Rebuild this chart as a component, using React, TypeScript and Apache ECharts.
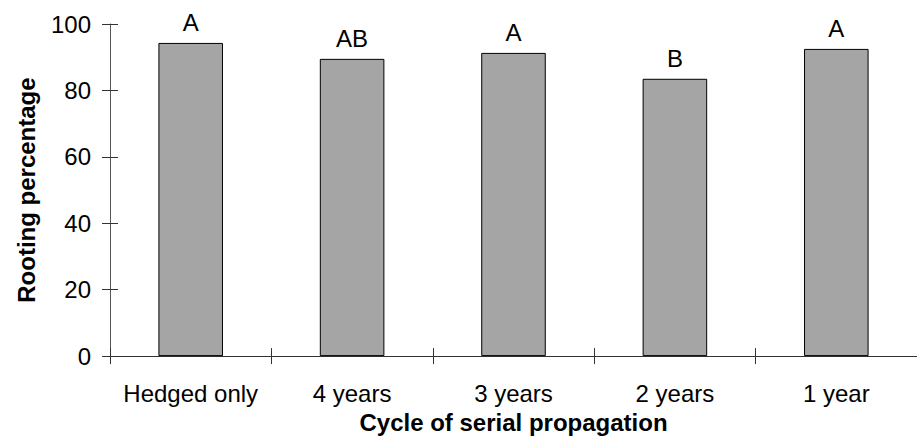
import React, { useEffect, useRef } from "react";
import * as echarts from "echarts";

const categories = ["Hedged only", "4 years", "3 years", "2 years", "1 year"];
const rootingValues = [94.3, 89.5, 91.3, 83.5, 92.5];
const letters = ["A", "AB", "A", "B", "A"];
const yTicks = { min: 0, max: 100, interval: 20 };

const FONT = "Liberation Sans, Arial, Helvetica, sans-serif";

export default function App() {
  const ref = useRef<HTMLDivElement>(null);
  useEffect(() => {
    if (!ref.current) return;
    const chart = echarts.init(ref.current, null, { renderer: "svg" });
    const axisColor = "#333";
    chart.setOption({
      animation: false,
      backgroundColor: "#fff",
      textStyle: { fontFamily: FONT },
      grid: { left: 110, top: 24, bottom: 81, right: -5, containLabel: false },
      xAxis: [
        {
          type: "category",
          data: categories,
          position: "bottom",
          boundaryGap: true,
          axisLine: { show: true, lineStyle: { color: axisColor, width: 1 } },
          axisTick: { show: true, length: 8, alignWithLabel: false, lineStyle: { color: axisColor } },
          axisLabel: { show: true, color: "#000", fontSize: 24, fontFamily: FONT, margin: 25, interval: 0 },
          name: "Cycle of serial propagation",
          nameLocation: "middle",
          nameGap: 51,
          nameTextStyle: { color: "#000", fontSize: 24, fontWeight: "bold", fontFamily: FONT },
          splitLine: { show: false },
        },
        {
          type: "category",
          data: categories,
          position: "bottom",
          boundaryGap: true,
          axisLine: { show: false },
          axisTick: { show: true, inside: true, length: 8, lineStyle: { color: axisColor } },
          axisLabel: { show: false },
          splitLine: { show: false },
        },
      ],
      yAxis: [
        {
          type: "value",
          position: "left",
          min: yTicks.min,
          max: yTicks.max,
          interval: yTicks.interval,
          axisLine: { show: true, lineStyle: { color: "#555", width: 1 } },
          axisTick: { show: true, length: 8, lineStyle: { color: axisColor } },
          axisLabel: { show: true, color: "#000", fontSize: 24, fontFamily: FONT, margin: 19 },
          splitLine: { show: false },
          name: "Rooting percentage",
          nameLocation: "middle",
          nameGap: 72,
          nameTextStyle: { color: "#000", fontSize: 24, fontWeight: "bold", fontFamily: FONT },
        },
        {
          type: "value",
          position: "left",
          min: yTicks.min,
          max: yTicks.max,
          interval: yTicks.interval,
          axisLine: { show: false },
          axisTick: { show: true, inside: true, length: 8, lineStyle: { color: axisColor } },
          axisLabel: { show: false },
          splitLine: { show: false },
        },
      ],
      series: [
        {
          type: "bar",
          xAxisIndex: 0,
          yAxisIndex: 0,
          data: rootingValues,
          barWidth: "40%",
          itemStyle: { color: "#a5a5a5", borderColor: "#000", borderWidth: 1 },
          label: {
            show: true,
            position: "top",
            distance: 8,
            color: "#000",
            fontSize: 24,
            fontFamily: FONT,
            formatter: (p: any) => letters[p.dataIndex],
          },
        },
      ],
    });
    return () => chart.dispose();
  }, []);
  return (
    <div
      ref={ref}
      style={{ position: "absolute", left: 0, top: 0, width: 917, height: 439 }}
    />
  );
}
